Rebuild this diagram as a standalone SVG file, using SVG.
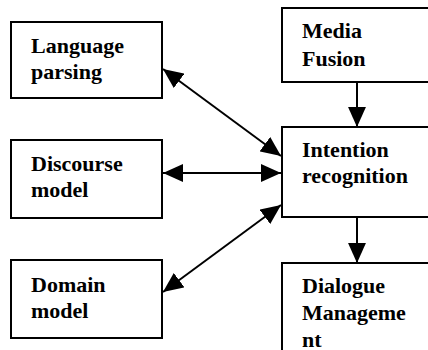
<svg xmlns="http://www.w3.org/2000/svg" width="428" height="350" viewBox="0 0 428 350">
  <defs>
    <marker id="head" markerUnits="userSpaceOnUse" markerWidth="20" markerHeight="18" viewBox="0 0 19 17" refX="19" refY="8.5" orient="auto-start-reverse">
      <path d="M0,0 L19,8.5 L0,17 Z" fill="#000"/>
    </marker>
  </defs>
  <style>
    .box { fill: #fff; stroke: #000; stroke-width: 2; }
    .edge { stroke: #000; stroke-width: 2; fill: none; }
  </style>
  <rect width="428" height="350" fill="#fff"/>

  <g id="connectors">
    <line class="edge" x1="163" y1="69" x2="281" y2="156" marker-start="url(#head)" marker-end="url(#head)"/>
    <line class="edge" x1="163" y1="173" x2="281" y2="173" marker-start="url(#head)" marker-end="url(#head)"/>
    <line class="edge" x1="163" y1="292" x2="281" y2="205" marker-start="url(#head)" marker-end="url(#head)"/>
    <line class="edge" x1="357" y1="82" x2="357" y2="127" marker-end="url(#head)"/>
    <line class="edge" x1="357" y1="217" x2="357" y2="263" marker-end="url(#head)"/>
  </g>

  <g font-family="'Liberation Serif', 'Times New Roman', serif" font-weight="bold" font-size="22" fill="#000">
    <g id="language-parsing">
      <rect class="box" x="11" y="22" width="151" height="76"/>
      <text x="31" y="53">Language</text>
      <text x="31" y="79">parsing</text>
    </g>

    <g id="discourse-model">
      <rect class="box" x="11" y="140" width="151" height="78"/>
      <text x="31" y="171">Discourse</text>
      <text x="31" y="197">model</text>
    </g>

    <g id="domain-model">
      <rect class="box" x="11" y="260" width="151" height="78"/>
      <text x="31" y="292">Domain</text>
      <text x="31" y="318">model</text>
    </g>

    <g id="media-fusion">
      <rect class="box" x="282" y="8" width="160" height="74"/>
      <text x="302" y="38">Media</text>
      <text x="302" y="66">Fusion</text>
    </g>

    <g id="intention-recognition">
      <rect class="box" x="282" y="127" width="160" height="90"/>
      <text x="302" y="157">Intention</text>
      <text x="302" y="183">recognition</text>
    </g>

    <g id="dialogue-management">
      <rect class="box" x="282" y="263" width="160" height="100"/>
      <text x="302" y="293">Dialogue</text>
      <text x="302" y="320">Manageme</text>
      <text x="302" y="347">nt</text>
    </g>
  </g>
</svg>
